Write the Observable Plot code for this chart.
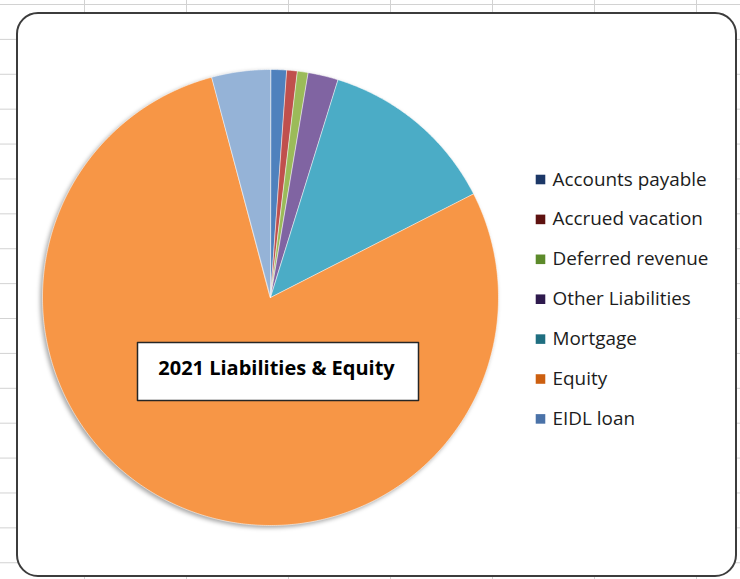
<!DOCTYPE html>
<html><head><meta charset="utf-8">
<script src="https://cdn.jsdelivr.net/npm/d3@7"></script>
<script src="https://cdn.jsdelivr.net/npm/@observablehq/plot@0.6"></script>
<style>
html,body{margin:0;padding:0;}
body{width:740px;height:579px;position:relative;overflow:hidden;background-color:#fff;
background-image:linear-gradient(to right,#d2d2d2 1px,transparent 1px),linear-gradient(to bottom,#d2d2d2 1px,transparent 1px);
background-size:102px 34.9px;background-position:84px 4px;}
#frame{position:absolute;left:16px;top:12px;width:721px;height:565px;box-sizing:border-box;border:2px solid #3c3c3c;border-radius:22px;background:#fff;}
#chart{position:absolute;left:0;top:0;}
</style></head><body><div id="frame"></div><div id="chart"></div>
<script>
const categories = ["Accounts payable","Accrued vacation","Deferred revenue","Other Liabilities","Mortgage","Equity","EIDL loan"];
const shares = [1.13, 0.75, 0.76, 2.14, 12.71, 78.35, 4.16];
const sliceColors = ["#4F81BD","#C0504D","#9BBB59","#8064A2","#4BACC6","#F79646","#95B3D7"];
const legendColors = ["#1c3767","#5e1210","#5c8a2a","#2e1a4d","#1f6e80","#cc5f10","#4a72a8"];
const title = "2021 Liabilities & Equity";

// layout (pixels)
const CX = 270, CY = 297, R = 228;
const ux = px => (px - CX) / R;
const uy = py => (CY - py) / R;

const projection = d3.geoIdentity().reflectY(true).scale(R).translate([CX, CY]);

const arcs = d3.pie().sort(null).value(d => d)(shares);
const slices = arcs.map((a, i) => {
  const n = Math.max(2, Math.ceil((a.endAngle - a.startAngle) / (Math.PI / 360)));
  const ring = [[0, 0]];
  for (let k = 0; k <= n; k++) {
    const t = a.startAngle + (a.endAngle - a.startAngle) * k / n;
    ring.push([Math.sin(t), Math.cos(t)]);
  }
  ring.push([0, 0]);
  return {type: "Feature", properties: {name: categories[i], color: sliceColors[i]},
          geometry: {type: "Polygon", coordinates: [ring]}};
});

const bx0 = ux(137), bx1 = ux(418), by0 = uy(342), by1 = uy(400);
const titleBox = [{type: "Feature", properties: {}, geometry: {type: "Polygon",
  coordinates: [[[bx0, by0], [bx1, by0], [bx1, by1], [bx0, by1], [bx0, by0]]]}}];

const svg = Plot.plot({
  width: 740, height: 579, margin: 0,
  projection,
  color: {type: "identity"},
  style: {background: "transparent", fontFamily: "'Open Sans', sans-serif", overflow: "visible"},
  marks: [
    Plot.geo(slices, {fill: d => d.properties.color, stroke: "#ffffff", strokeOpacity: 0.55, strokeWidth: 1}),
    Plot.geo(titleBox, {fill: "#ffffff", stroke: "#262626", strokeWidth: 1.5}),
    Plot.text([title], {x: () => ux(276), y: () => uy(368.5), text: d => d, fontWeight: "bold",
      fontSize: 20, lineAnchor: "middle", fill: "#000000"}),
    Plot.dot(categories, {x: () => ux(540), y: (d, i) => uy(179 + 39.9 * i), symbol: "square", r: 5.4,
      fill: (d, i) => legendColors[i], stroke: null}),
    Plot.text(categories, {x: () => ux(552), y: (d, i) => uy(179 + 39.9 * i), text: d => d,
      textAnchor: "start", lineAnchor: "middle", fontSize: 18.9, fontWeight: 500, fill: "#1c1c1c"})
  ]
});
const g = svg.querySelector('g[aria-label="geo"]');
if (g) g.style.filter = "drop-shadow(-1.5px 2px 2px rgba(0,0,0,0.35))";
document.getElementById("chart").appendChild(svg);
</script></body></html>
